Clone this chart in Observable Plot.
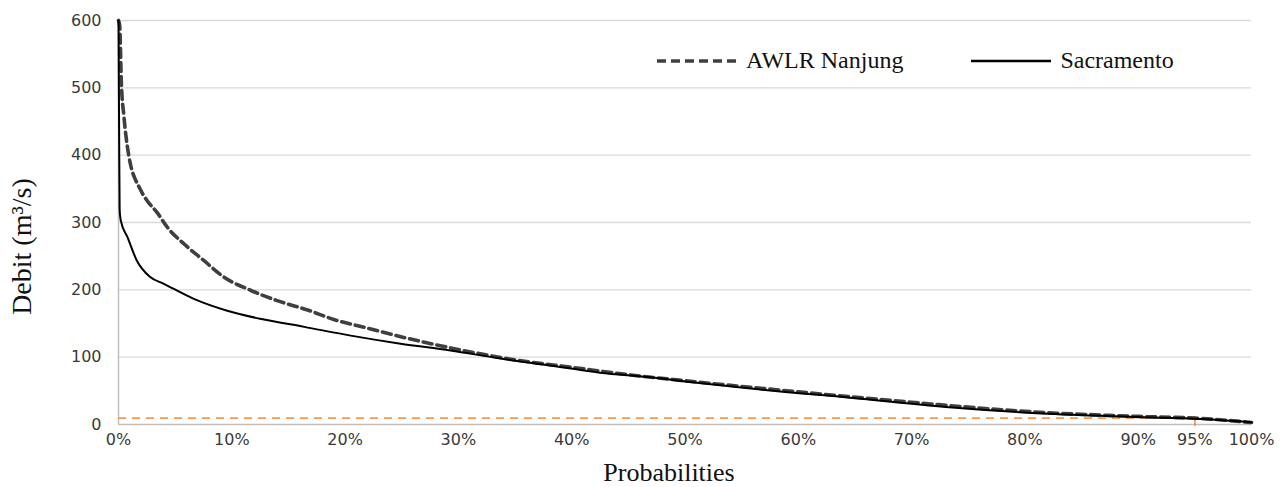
<!DOCTYPE html>
<html>
<head>
<meta charset="utf-8">
<script src="https://cdn.jsdelivr.net/npm/d3@7"></script>
<script src="https://cdn.jsdelivr.net/npm/@observablehq/plot@0.6"></script>
<style>
  html, body { margin: 0; padding: 0; background: #fff; }
  #wrap { position: relative; width: 1288px; height: 487px; }
  #legend { position: absolute; top: 47px; left: 655px; font-family: "Liberation Serif", "Times New Roman", serif; font-size: 24px; color: #111; display: flex; align-items: center; white-space: nowrap; }
  #legend .item { display: flex; align-items: center; }
  #legend svg { display: block; }
</style>
</head>
<body>
<div id="wrap">
  <div id="chart"></div>
  <div id="legend"></div>
</div>
<script>
// Exceedance probability (%) and discharge (m3/s)
const probSacramento = [0, 0.05, 0.1, 0.2, 0.8, 1.6, 2.8, 4.0, 6.6, 9.6, 12.5, 16.4, 20.5, 24.9, 29.3, 33.7, 37.9, 42.5, 47, 50, 56, 65, 73, 82, 90, 95, 100];
const debitSacramento = [600, 450, 320, 303, 278, 244, 219, 209, 187, 169, 157, 145, 132, 120, 110, 98, 88, 77, 70, 64, 53, 39, 26, 16, 11, 8.5, 3.5];

const probAwlr = [0, 0.1, 0.26, 0.47, 0.9, 1.9, 2.5, 3.4, 4.3, 5.8, 7.5, 9.3, 11.7, 14.0, 16.7, 19.0, 22.0, 25.5, 28.4, 31.3, 35, 40, 45, 50, 60, 70, 80, 90, 95, 100];
const debitAwlr = [600, 593, 504, 459, 400, 350, 333, 315, 293, 268, 244, 219, 199, 184, 170, 156, 143, 128, 117, 107, 96, 85, 74, 65, 48.5, 33, 19.5, 12, 9.5, 3];

const seriesNames = ["AWLR Nanjung", "Sacramento"];
const xTicks = [0, 10, 20, 30, 40, 50, 60, 70, 80, 90, 95, 100];
const yTicks = [0, 100, 200, 300, 400, 500, 600];
const q95Prob = 95;
const q95Debit = 9.5;

const sac = probSacramento.map((p, i) => ({p, q: debitSacramento[i]}));
const awlr = probAwlr.map((p, i) => ({p, q: debitAwlr[i]}));

const tickFont = '"DejaVu Sans", Verdana, sans-serif';
const serif = '"Liberation Serif", "Times New Roman", serif';

const plot = Plot.plot({
  width: 1288,
  height: 487,
  marginLeft: 118,
  marginRight: 37,
  marginTop: 20,
  marginBottom: 63,
  x: {domain: [0, 100]},
  y: {domain: [0, 600]},
  style: {background: "#fff", overflow: "visible"},
  marks: [
    Plot.gridY(yTicks.filter(d => d > 0), {stroke: "#d9d9d9", strokeOpacity: 1, strokeWidth: 1.3}),
    Plot.ruleY([0], {stroke: "#bfbfbf", strokeWidth: 1.5}),
    Plot.ruleX([0], {stroke: "#bfbfbf", strokeWidth: 1.5}),
    Plot.axisY({ticks: yTicks, tickSize: 0, tickPadding: 17, label: null, fontSize: 16, fontFamily: tickFont, fill: "#3a3a3a"}),
    Plot.axisX({ticks: xTicks, tickSize: 0, tickPadding: 9, label: null, tickFormat: d => d + "%", fontSize: 16, fontFamily: tickFont, fill: "#3a3a3a"}),
    Plot.ruleY([q95Debit], {x1: 0, x2: q95Prob, stroke: "#f39b55", strokeWidth: 1.6, strokeDasharray: "8,6"}),
    Plot.ruleX([q95Prob], {y1: -3, y2: q95Debit + 2, stroke: "#e8823c", strokeWidth: 1.4}),
    Plot.line(awlr, {x: "p", y: "q", stroke: "#3f3f3f", strokeWidth: 3.6, strokeDasharray: "9,5", curve: "monotone-x"}),
    Plot.line(sac, {x: "p", y: "q", stroke: "#000", strokeWidth: 2, curve: "monotone-x"}),
    Plot.text(["Debit (m³/s)"], {frameAnchor: "left", rotate: -90, dx: -96, dy: 24, fontSize: 28, fontFamily: serif, fill: "#111", textAnchor: "middle"}),
    Plot.text(["Probabilities"], {frameAnchor: "bottom", dy: 48, dx: -16, fontSize: 26, fontFamily: serif, fill: "#111", lineAnchor: "middle"})
  ]
});
document.getElementById("chart").appendChild(plot);

// Legend
const legend = document.getElementById("legend");
function item(name, dashed, gap) {
  const div = document.createElement("div");
  div.className = "item";
  div.style.marginRight = gap + "px";
  const ns = "http://www.w3.org/2000/svg";
  const s = document.createElementNS(ns, "svg");
  s.setAttribute("width", 86);
  s.setAttribute("height", 20);
  const l = document.createElementNS(ns, "line");
  l.setAttribute("x1", 2); l.setAttribute("x2", dashed ? 84 : 82);
  l.setAttribute("y1", 10); l.setAttribute("y2", 10);
  l.setAttribute("stroke", dashed ? "#3f3f3f" : "#000");
  l.setAttribute("stroke-width", dashed ? 3.6 : 2.4);
  if (dashed) l.setAttribute("stroke-dasharray", "9,5");
  s.appendChild(l);
  const t = document.createElement("span");
  t.textContent = name;
  t.style.marginLeft = "5px";
  div.appendChild(s);
  div.appendChild(t);
  return div;
}
legend.appendChild(item(seriesNames[0], true, 66));
legend.appendChild(item(seriesNames[1], false, 0));
</script>
</body>
</html>
